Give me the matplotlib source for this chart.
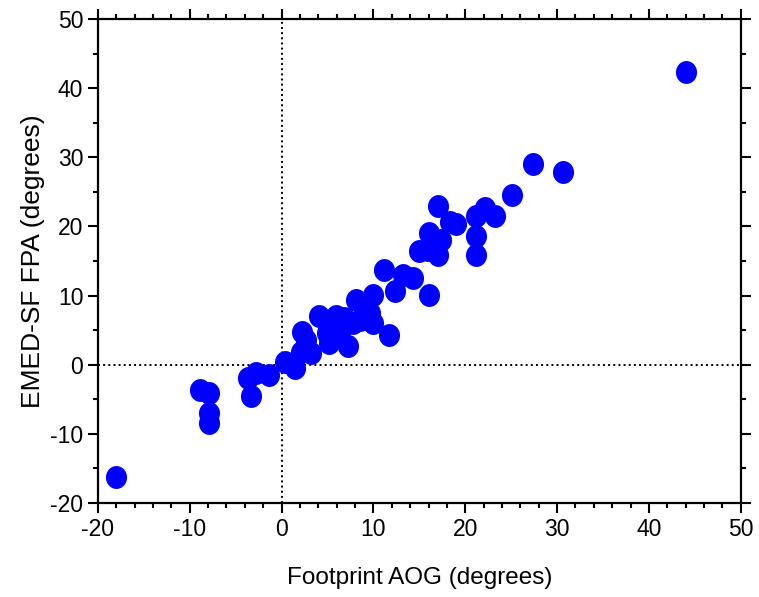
import numpy as np
import matplotlib
matplotlib.use('Agg')
import matplotlib.pyplot as plt
from matplotlib.path import Path
from matplotlib.ticker import MultipleLocator

plt.rcParams['font.family'] = ['Liberation Sans', 'DejaVu Sans']
plt.rcParams['axes.unicode_minus'] = False

# Footprint AOG vs EMED-SF FPA (degrees)
aog = [-18.0, -8.9, -7.9, -7.9, -7.9,
       -3.7, -2.8, -1.4, -3.3,
       0.4, 1.5, 2.1, 3.2, 2.25, 2.7, 4.1, 4.9, 5.2, 5.95, 6.85,
       7.2, 6.5, 8.1, 7.75, 8.5, 9.9, 9.9, 9.6, 11.75,
       11.2, 12.3, 13.2, 14.3, 16.1,
       15.0, 15.9, 16.1, 17.0, 17.4, 17.0, 18.3, 19.0,
       21.2, 22.1, 23.2, 21.2, 21.2, 25.1,
       27.4, 30.6, 44.0]
fpa = [-16.2, -3.7, -4.1, -7.0, -8.4,
       -1.9, -1.2, -1.5, -4.5,
       0.4, -0.5, 1.9, 1.7, 4.7, 3.6, 7.0, 4.6, 3.1, 7.0, 6.75,
       2.7, 5.2, 9.4, 6.0, 6.5, 10.1, 6.0, 7.5, 4.3,
       13.75, 10.6, 13.0, 12.5, 10.1,
       16.4, 16.6, 19.1, 15.9, 18.1, 22.9, 20.7, 20.3,
       21.5, 22.7, 21.5, 18.6, 15.9, 24.6,
       29.1, 27.9, 42.4]

# slightly tall ellipse marker
t = np.linspace(0, 2 * np.pi, 60)
ell = Path(np.column_stack([0.92 * np.cos(t), np.sin(t)]), closed=True)

fig = plt.figure(figsize=(7.59, 5.97), dpi=100)
ax = fig.add_axes([0.129, 0.1575, 0.847, 0.8105])

ax.axvline(0, color='black', linestyle=':', linewidth=1.4, zorder=1)
ax.axhline(0, color='black', linestyle=':', linewidth=1.4, zorder=1)
ax.plot(aog, fpa, linestyle='none', marker=ell, markersize=16.5,
        color='#0000ff', markeredgewidth=0, zorder=3)

ax.set_xlim(-20, 50)
ax.set_ylim(-20, 50)
ax.xaxis.set_major_locator(MultipleLocator(10))
ax.xaxis.set_minor_locator(MultipleLocator(2))
ax.yaxis.set_major_locator(MultipleLocator(10))
ax.yaxis.set_minor_locator(MultipleLocator(5))
ax.tick_params(which='both', direction='out', top=True, right=True,
               width=1.5, labelsize=16.5)
ax.tick_params(which='major', length=7)
ax.tick_params(which='minor', length=3.5)
ax.tick_params(axis='x', labeltop=False)
for s in ax.spines.values():
    s.set_linewidth(1.6)

ax.set_xlabel('Footprint AOG (degrees)', fontsize=17.5, labelpad=19)
ax.set_ylabel('EMED-SF FPA (degrees)', fontsize=19, labelpad=4)

fig.savefig('out.png', dpi=100)
